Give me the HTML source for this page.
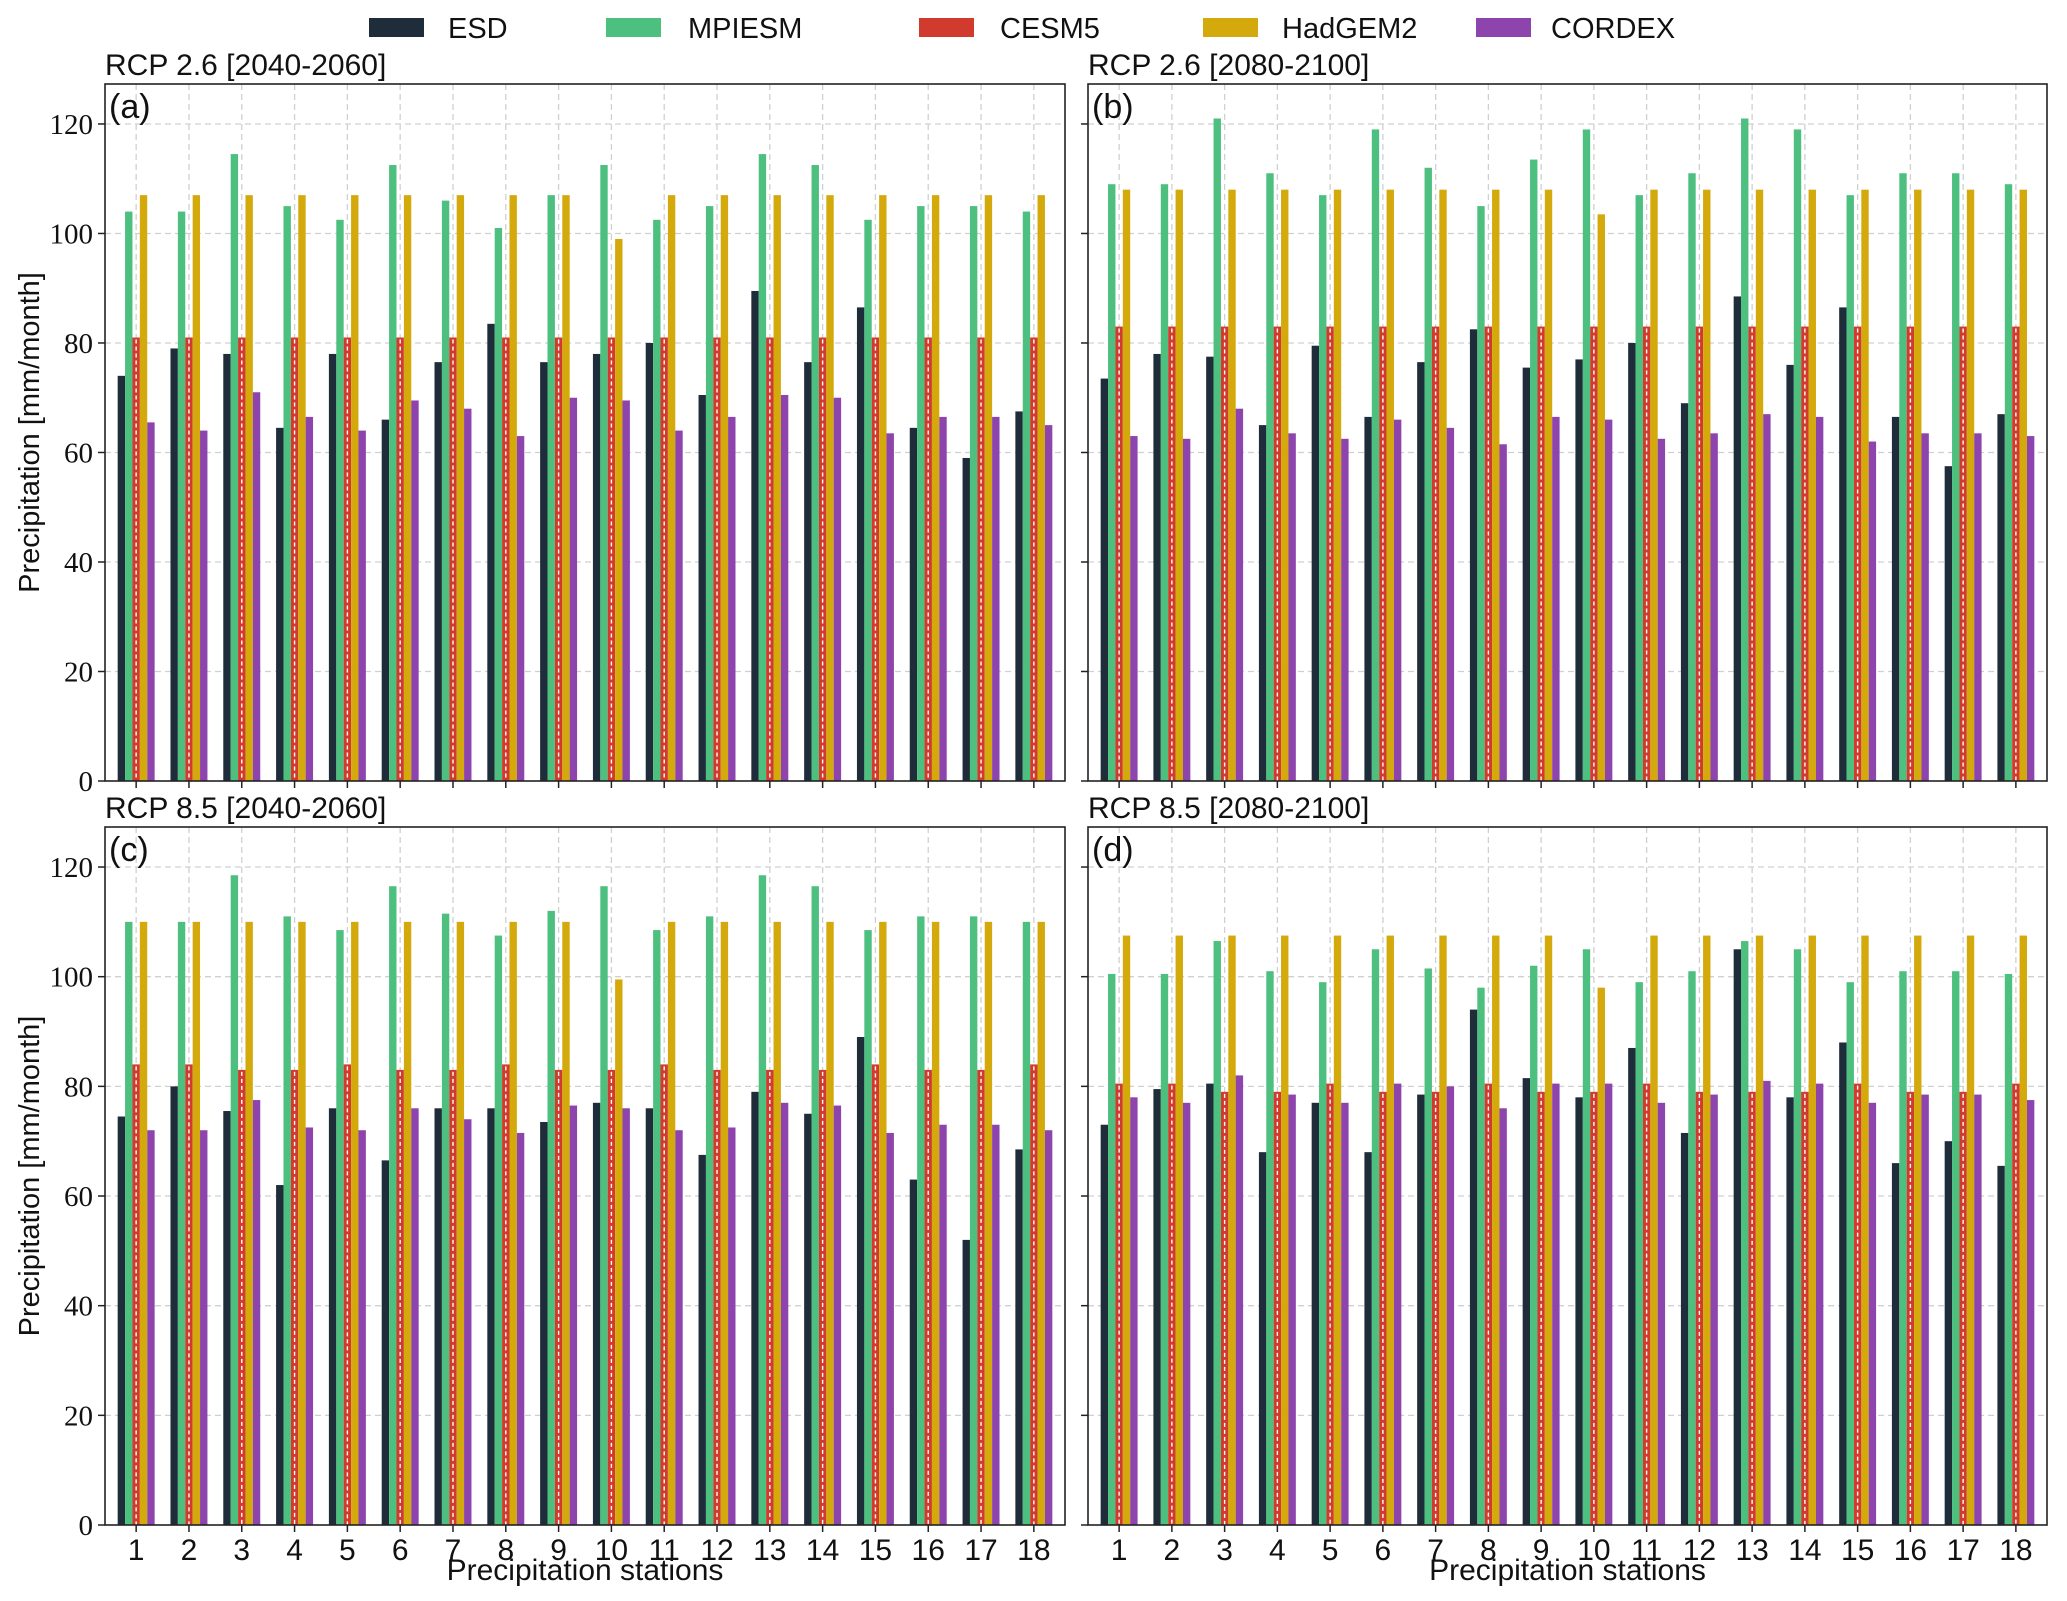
<!DOCTYPE html>
<html><head><meta charset="utf-8">
<style>
html,body{margin:0;padding:0;background:#fff;}
svg{display:block;}
</style></head>
<body>
<svg id="chart" width="2067" height="1601" xmlns="http://www.w3.org/2000/svg" font-family="Liberation Sans, sans-serif"></svg>
<script>
const stations = [1,2,3,4,5,6,7,8,9,10,11,12,13,14,15,16,17,18];
const seriesNames = ["ESD","MPIESM","CESM5","HadGEM2","CORDEX"];
const yTicks = [0,20,40,60,80,100,120];
const panelTitles = ["RCP 2.6 [2040-2060]","RCP 2.6 [2080-2100]","RCP 8.5 [2040-2060]","RCP 8.5 [2080-2100]"];
const panelLetters = ["(a)","(b)","(c)","(d)"];

const aESD = [74,79,78,64.5,78,66,76.5,83.5,76.5,78,80,70.5,89.5,76.5,86.5,64.5,59,67.5];
const aMPI = [104,104,114.5,105,102.5,112.5,106,101,107,112.5,102.5,105,114.5,112.5,102.5,105,105,104];
const aCESM = [81,81,81,81,81,81,81,81,81,81,81,81,81,81,81,81,81,81];
const aHad = [107,107,107,107,107,107,107,107,107,99,107,107,107,107,107,107,107,107];
const aCOR = [65.5,64,71,66.5,64,69.5,68,63,70,69.5,64,66.5,70.5,70,63.5,66.5,66.5,65];

const bESD = [73.5,78,77.5,65,79.5,66.5,76.5,82.5,75.5,77,80,69,88.5,76,86.5,66.5,57.5,67];
const bMPI = [109,109,121,111,107,119,112,105,113.5,119,107,111,121,119,107,111,111,109];
const bCESM = [83,83,83,83,83,83,83,83,83,83,83,83,83,83,83,83,83,83];
const bHad = [108,108,108,108,108,108,108,108,108,103.5,108,108,108,108,108,108,108,108];
const bCOR = [63,62.5,68,63.5,62.5,66,64.5,61.5,66.5,66,62.5,63.5,67,66.5,62,63.5,63.5,63];

const cESD = [74.5,80,75.5,62,76,66.5,76,76,73.5,77,76,67.5,79,75,89,63,52,68.5];
const cMPI = [110,110,118.5,111,108.5,116.5,111.5,107.5,112,116.5,108.5,111,118.5,116.5,108.5,111,111,110];
const cCESM = [84,84,83,83,84,83,83,84,83,83,84,83,83,83,84,83,83,84];
const cHad = [110,110,110,110,110,110,110,110,110,99.5,110,110,110,110,110,110,110,110];
const cCOR = [72,72,77.5,72.5,72,76,74,71.5,76.5,76,72,72.5,77,76.5,71.5,73,73,72];

const dESD = [73,79.5,80.5,68,77,68,78.5,94,81.5,78,87,71.5,105,78,88,66,70,65.5];
const dMPI = [100.5,100.5,106.5,101,99,105,101.5,98,102,105,99,101,106.5,105,99,101,101,100.5];
const dCESM = [80.5,80.5,79,79,80.5,79,79,80.5,79,79,80.5,79,79,79,80.5,79,79,80.5];
const dHad = [107.5,107.5,107.5,107.5,107.5,107.5,107.5,107.5,107.5,98,107.5,107.5,107.5,107.5,107.5,107.5,107.5,107.5];
const dCOR = [78,77,82,78.5,77,80.5,80,76,80.5,80.5,77,78.5,81,80.5,77,78.5,78.5,77.5];

const colors = ["#1f2d3a","#4dbf7f","#d03b2d","#d4a90c","#8e44ad"];
const panelData = [[aESD,aMPI,aCESM,aHad,aCOR],[bESD,bMPI,bCESM,bHad,bCOR],[cESD,cMPI,cCESM,cHad,cCOR],[dESD,dMPI,dCESM,dHad,dCOR]];
const boxes = [{x:105,y:84,w:960,h:697},{x:1088,y:84,w:959,h:697},{x:105,y:827,w:960,h:698},{x:1088,y:827,w:959,h:698}];

const svg = document.getElementById('chart');
const NS = 'http://www.w3.org/2000/svg';
function mk(tag, attrs, parent){ const e=document.createElementNS(NS,tag); for(const k in attrs) e.setAttribute(k,attrs[k]); (parent||svg).appendChild(e); return e; }

const yMax = 127.3, xMin = 0.41, xMax = 18.59;
const barW = 0.14;

boxes.forEach((b,pi)=>{
  const g = mk('g',{});
  
  
  const xs = v => b.x + (v - xMin)/(xMax - xMin)*b.w;
  const ys = v => b.y + b.h - v/yMax*b.h;
  yTicks.forEach(t=>{ if(t>0){ const l=mk('line',{x1:b.x,x2:b.x+b.w,y1:ys(t),y2:ys(t),stroke:'#d0d0d0','stroke-width':1.3,'stroke-dasharray':'6,4'},g);
      }});
  stations.forEach(s=>{ const l=mk('line',{x1:xs(s),x2:xs(s),y1:b.y,y2:b.y+b.h,stroke:'#d0d0d0','stroke-width':1.3,'stroke-dasharray':'6,4'},g);
      });
  panelData[pi].forEach((arr,si)=>{
    arr.forEach((v,i)=>{
      const cx = stations[i] + (si-2)*barW;
      const x0 = xs(cx - barW/2), x1 = xs(cx + barW/2);
      const r = mk('rect',{x:x0,y:ys(v),width:x1-x0,height:ys(0)-ys(v),fill:colors[si]},g);
      
      
      if(si===2){
        const l = mk('line',{x1:(x0+x1)/2,x2:(x0+x1)/2,y1:ys(v)+2,y2:ys(0),stroke:'#ffffff','stroke-width':1.4,'stroke-dasharray':'4,3'},g);
         
      }
    });
  });
  const f = mk('rect',{x:b.x,y:b.y,width:b.w,height:b.h,fill:'none',stroke:'#222','stroke-width':1.6},g);
   
  yTicks.forEach(t=>{
    mk('line',{x1:b.x-7,x2:b.x,y1:ys(t),y2:ys(t),stroke:'#222','stroke-width':1.5},g);
    if(pi%2===0){
      const tx = mk('text',{x:b.x-12,y:ys(t)+10,'text-anchor':'end','font-size':29,'font-family':'Liberation Serif, serif',fill:'#111'},g);
      tx.textContent = t;
       
    }
  });
  stations.forEach(s=>{
    mk('line',{x1:xs(s),x2:xs(s),y1:b.y+b.h,y2:b.y+b.h+7,stroke:'#222','stroke-width':1.5},g);
    if(pi>=2){
      const tx = mk('text',{x:xs(s),y:b.y+b.h+35,'text-anchor':'middle','font-size':30,fill:'#111'},g);
      tx.textContent = s;
       
    }
  });
  const tt = mk('text',{x:b.x,y:b.y-9,'font-size':30,fill:'#111'},g);
  tt.textContent = panelTitles[pi];
   
  const pl = mk('text',{x:b.x+4,y:b.y+34,'font-size':34,fill:'#111'},g);
  pl.textContent = panelLetters[pi];
   
  if(pi%2===0){
    const yl = mk('text',{x:0,y:0,'font-size':29,fill:'#111','text-anchor':'middle',transform:'translate(39,'+(b.y+b.h/2)+') rotate(-90)'},g);
    yl.textContent = 'Precipitation [mm/month]';
     
  }
  if(pi>=2){
    const xl = mk('text',{x:b.x+b.w/2,y:1580,'font-size':30,fill:'#111','text-anchor':'middle'},g);
    xl.textContent = 'Precipitation stations';
     
  }
});

const legPatchX = [369,606,919,1203,1476];
const legTextX = [448,688,1000,1282,1551];
seriesNames.forEach((n,i)=>{
  const g = mk('g',{});
  
  
  mk('rect',{x:legPatchX[i],y:18,width:55,height:19,fill:colors[i]},g);
  const t = mk('text',{x:legTextX[i],y:38,'font-size':29,fill:'#111'},g);
  t.textContent = n;
});
</script>
</body></html>
